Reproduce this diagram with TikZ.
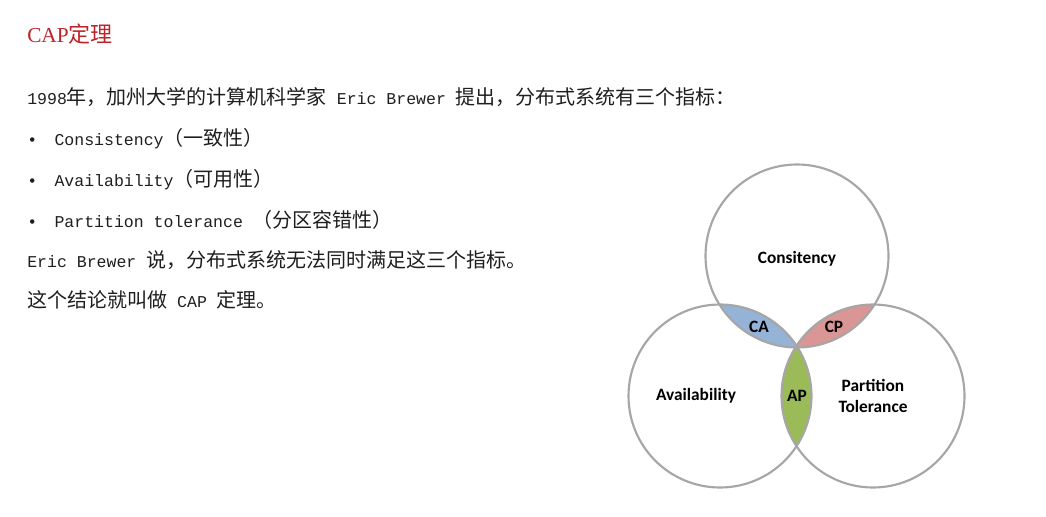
\documentclass[tikz,border=0pt]{standalone}
\usepackage{fontspec}
\setmainfont{Liberation Mono}
\newfontfamily\cjkfont{Noto Sans CJK SC}
\newfontfamily\titlefont{Liberation Serif}
\newfontfamily\vennfont{Carlito}
\usetikzlibrary{positioning}
\definecolor{titlered}{RGB}{186,36,42}
\definecolor{bodygray}{RGB}{30,30,30}
\definecolor{ringgray}{RGB}{166,166,166}
\definecolor{cafill}{RGB}{149,179,215}
\definecolor{cpfill}{RGB}{217,150,148}
\definecolor{apfill}{RGB}{155,187,89}
\newcommand{\zh}[1]{{\fontsize{15pt}{18pt}\selectfont\cjkfont #1}}
\tikzset{
    captitle/.style={anchor=base west, inner sep=0pt, text=titlered},
    capline/.style={anchor=base west, inner sep=0pt, text=bodygray, font=\fontsize{12.4pt}{15pt}\selectfont},
    capring/.style={draw=ringgray, line width=1.6pt, circle, minimum size=137.25pt, inner sep=0pt},
    caplabel/.style={font=\vennfont\bfseries\fontsize{13pt}{15.8pt}\selectfont, align=center, inner sep=0pt}
}

\begin{document}
\begin{tikzpicture}[x=0.75pt, y=-0.75pt]
    \useasboundingbox (0,0) rectangle (1046,517);

    \node[captitle] (title) at (27,43) {{\titlefont\fontsize{16pt}{19pt}\selectfont CAP}{\cjkfont\fontsize{16.5pt}{20pt}\selectfont 定理}};

    \node[capline] (intro) at (27,104) {1998\zh{年，加州大学的计算机科学家} Eric Brewer \zh{提出，分布式系统有三个指标：}};
    \node[capline] (cons) at (27,145) {\textbullet\hspace{13pt}Consistency\zh{（一致性）}};
    \node[capline] (avail) at (27,186) {\textbullet\hspace{13pt}Availability\zh{（可用性）}};
    \node[capline] (part) at (27,227) {\textbullet\hspace{13pt}Partition tolerance \zh{（分区容错性）}};
    \node[capline] (claim) at (27,267) {Eric Brewer \zh{说，分布式系统无法同时满足这三个指标。}};
    \node[capline] (concl) at (27,307) {\zh{这个结论就叫做} CAP \zh{定理。}};

    \coordinate (ctop) at (797,256);
    \coordinate (cleft) at (720,396);
    \coordinate (cright) at (873,396);

    \begin{scope}
        \clip (ctop) circle [radius=68.6pt];
        \fill[cafill] (cleft) circle [radius=68.6pt];
        \fill[cpfill] (cright) circle [radius=68.6pt];
    \end{scope}
    \begin{scope}
        \clip (cleft) circle [radius=68.6pt];
        \fill[apfill] (cright) circle [radius=68.6pt];
    \end{scope}

    \node[capring] (ringc) at (ctop) {};
    \node[capring] (ringa) at (cleft) {};
    \node[capring] (ringp) at (cright) {};

    \node[caplabel] (lblc) at (797,259) {Consitency};
    \node[caplabel] (lblca) at (759,327) {CA};
    \node[caplabel] (lblcp) at (834,327) {CP};
    \node[caplabel] (lblap) at (797,396) {AP};
    \node[caplabel] (lbla) at (696,396) {Availability};
    \node[caplabel] (lblp) at (873,396) {Partition\\Tolerance};
\end{tikzpicture}
\end{document}
